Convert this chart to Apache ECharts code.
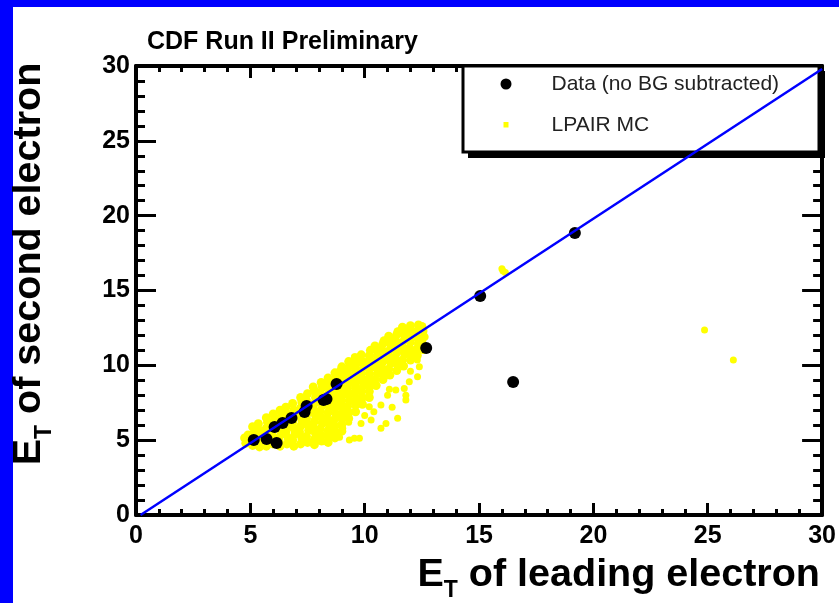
<!DOCTYPE html>
<html>
<head>
<meta charset="utf-8">
<script src="https://cdn.jsdelivr.net/npm/echarts@6.0.0/dist/echarts.min.js"></script>
<style>
html, body { margin: 0; padding: 0; background: #fff; }
#mainChart { width: 839px; height: 603px; }
</style>
</head>
<body>
<div id="mainChart"></div>
<script>
// measured events: [ET leading, ET second]
var dataPoints = [
    [5.15, 5.01], [5.71, 5.08], [6.15, 4.81], [6.06, 5.88], [6.41, 6.15],
    [6.80, 6.48], [7.37, 6.88], [7.46, 7.28], [8.20, 7.68], [8.33, 7.75],
    [8.77, 8.75], [12.69, 11.16], [15.05, 14.63], [19.19, 18.84], [16.49, 8.88]
];

// LPAIR MC, dense band
var mcBand = [
    [4.8, 4.8], [4.75, 5.15], [4.9, 5.35],
    [5.1, 4.65], [5.05, 5.05], [5.15, 5.45], [5.1, 5.9],
    [5.4, 4.55], [5.35, 4.85], [5.45, 5.25], [5.4, 5.65], [5.35, 6.1],
    [5.7, 4.6], [5.75, 5.0], [5.65, 5.4], [5.7, 5.8], [5.75, 6.2], [5.7, 6.5],
    [6.0, 4.75], [6.05, 5.15], [5.95, 5.55], [6.0, 5.95], [6.05, 6.35], [6.0, 6.75],
    [6.3, 4.6], [6.25, 5.0], [6.35, 5.4], [6.3, 5.8], [6.25, 6.2], [6.35, 6.6], [6.3, 7.0],
    [6.6, 4.75], [6.65, 5.15], [6.55, 5.55], [6.6, 5.95], [6.65, 6.35], [6.6, 6.75], [6.55, 7.2],
    [6.9, 4.6], [6.85, 5.0], [6.95, 5.4], [6.9, 5.8], [6.85, 6.2], [6.95, 6.6], [6.9, 7.0], [6.85, 7.45],
    [7.2, 4.75], [7.25, 5.15], [7.15, 5.55], [7.2, 5.95], [7.25, 6.35], [7.15, 6.75], [7.2, 7.15], [7.25, 7.55], [7.2, 7.85],
    [7.5, 4.85], [7.45, 5.25], [7.55, 5.65], [7.5, 6.05], [7.45, 6.45], [7.55, 6.85], [7.5, 7.25], [7.45, 7.65], [7.5, 8.1],
    [7.8, 4.7], [7.8, 5.05], [7.85, 5.45], [7.75, 5.85], [7.8, 6.25], [7.85, 6.65], [7.75, 7.05], [7.8, 7.45], [7.85, 7.85], [7.8, 8.3], [7.75, 8.55],
    [8.1, 4.95], [8.1, 5.35], [8.05, 5.75], [8.15, 6.15], [8.1, 6.55], [8.05, 6.95], [8.15, 7.35], [8.1, 7.75], [8.05, 8.15], [8.15, 8.55], [8.1, 8.85],
    [8.4, 4.85], [8.4, 5.25], [8.4, 5.65], [8.45, 6.05], [8.35, 6.45], [8.4, 6.85], [8.45, 7.25], [8.35, 7.65], [8.4, 8.05], [8.45, 8.45], [8.35, 8.85], [8.4, 9.15],
    [8.7, 5.15], [8.7, 5.55], [8.7, 5.95], [8.65, 6.35], [8.75, 6.75], [8.7, 7.15], [8.65, 7.55], [8.75, 7.95], [8.7, 8.35], [8.65, 8.75], [8.75, 9.15], [8.7, 9.5],
    [9.0, 5.6], [9.0, 6.05], [9.0, 6.45], [9.05, 6.85], [8.95, 7.25], [9.0, 7.65], [9.05, 8.05], [8.95, 8.45], [9.0, 8.85], [9.05, 9.25], [8.95, 9.65], [9.0, 9.9],
    [9.3, 6.45], [9.3, 6.85], [9.25, 7.25], [9.35, 7.65], [9.3, 8.05], [9.25, 8.45], [9.35, 8.85], [9.3, 9.25], [9.25, 9.65], [9.35, 10.0], [9.3, 10.25],
    [9.6, 6.9], [9.6, 7.35], [9.65, 7.75], [9.55, 8.15], [9.6, 8.55], [9.65, 8.95], [9.55, 9.35], [9.6, 9.75], [9.65, 10.15], [9.6, 10.5],
    [9.9, 7.4], [9.9, 7.85], [9.85, 8.25], [9.95, 8.65], [9.9, 9.05], [9.85, 9.45], [9.95, 9.85], [9.9, 10.25], [9.85, 10.7],
    [10.2, 7.85], [10.2, 8.25], [10.25, 8.65], [10.15, 9.05], [10.2, 9.45], [10.25, 9.85], [10.15, 10.25], [10.2, 10.65], [10.25, 11.0],
    [10.5, 8.65], [10.45, 9.05], [10.55, 9.45], [10.5, 9.85], [10.45, 10.25], [10.55, 10.65], [10.5, 11.05], [10.45, 11.3],
    [10.8, 9.05], [10.85, 9.45], [10.75, 9.85], [10.8, 10.25], [10.85, 10.65], [10.75, 11.05], [10.8, 11.45], [10.85, 11.65],
    [11.1, 9.35], [11.05, 9.75], [11.15, 10.15], [11.1, 10.55], [11.05, 10.95], [11.15, 11.35], [11.1, 11.75], [11.05, 11.95],
    [11.4, 9.65], [11.45, 10.05], [11.35, 10.45], [11.4, 10.85], [11.45, 11.25], [11.35, 11.65], [11.4, 12.05], [11.45, 12.25],
    [11.7, 9.95], [11.65, 10.35], [11.75, 10.75], [11.7, 11.15], [11.65, 11.55], [11.75, 11.95], [11.7, 12.35], [11.65, 12.55],
    [12.0, 10.35], [12.05, 10.75], [11.95, 11.15], [12.0, 11.55], [12.05, 11.95], [11.95, 12.35], [12.0, 12.65],
    [12.3, 10.65], [12.25, 11.05], [12.35, 11.45], [12.3, 11.85], [12.25, 12.25], [12.35, 12.7],
    [12.55, 11.05], [12.5, 11.5], [12.6, 11.9], [12.55, 12.3], [12.5, 12.6]
];

// LPAIR MC, sparse tail and outliers
var mcSparse = [
    [9.04, 5.79], [9.84, 6.12], [10.28, 6.35], [10.93, 6.12], [10.71, 5.79], [11.44, 6.46],
    [9.33, 5.01], [9.55, 5.12], [9.77, 5.12], [8.6, 5.34], [8.17, 4.9], [10.71, 7.35],
    [11.0, 8.0], [10.2, 7.23], [11.36, 8.35], [11.8, 7.68], [11.8, 8.0], [9.84, 7.4],
    [12.39, 9.9], [12.31, 9.24], [11.95, 8.9], [11.73, 8.46], [11.08, 8.4], [12.3, 10.35],
    [9.55, 10.57], [10.4, 6.9], [9.3, 6.2], [8.9, 5.2], [10.0, 6.65], [11.2, 7.2], [12.0, 9.6],
    [16.0, 16.45], [16.15, 16.2], [16.05, 16.3], [24.86, 12.36], [26.12, 10.35]
];

var fitLine = [[0.2, 0], [30, 29.8]];
var seriesNames = ['Data (no BG subtracted)', 'LPAIR MC'];
var titleText = 'CDF Run II Preliminary';
var xName = ['E', 'T', ' of leading electron'];
var yName = ['E', 'T', ' of second electron'];
var axisMin = 0, axisMax = 30, axisStep = 5;

var FONT = '"Liberation Sans", Arial, Helvetica, sans-serif';

function frameAxis(pos, isX, showLabel) {
    return {
        type: 'value',
        position: pos,
        min: axisMin,
        max: axisMax,
        interval: axisStep,
        axisLine: { show: true, onZero: false, lineStyle: { color: '#000', width: 4 } },
        axisTick: { show: true, inside: true, length: isX ? 12 : 20, lineStyle: { color: '#000', width: 3 } },
        minorTick: { show: true, splitNumber: 5, length: isX ? 6 : 9, lineStyle: { color: '#000', width: 3 } },
        splitLine: { show: false },
        axisLabel: {
            show: showLabel,
            showMinLabel: true,
            showMaxLabel: true,
            margin: isX ? 9 : 6,
            color: '#000',
            fontFamily: FONT,
            fontWeight: 'bold',
            fontSize: 25
        }
    };
}

// rich text for E_T names
function nameRich() {
    return {
        e: { fontFamily: FONT, fontWeight: 'bold', fontSize: 39.5, lineHeight: 39, verticalAlign: 'top', fill: '#000' },
        s: { fontFamily: FONT, fontWeight: 'bold', fontSize: 23, lineHeight: 23, verticalAlign: 'top', padding: [24, 0, 0, 0], fill: '#000' }
    };
}
function nameText(parts) {
    return '{e|' + parts[0] + '}{s|' + parts[1] + '}{e|' + parts[2] + '}';
}

var myChart = echarts.init(document.getElementById('mainChart'));

var option = {
    animation: false,
    backgroundColor: '#fff',
    grid: { left: 136, right: 15, top: 66, bottom: 88 },
    xAxis: [frameAxis('bottom', true, true), frameAxis('top', true, false)],
    yAxis: [frameAxis('left', false, true), frameAxis('right', false, false)],
    legend: {
        orient: 'vertical',
        left: 500.5,
        top: 73.5,
        padding: 0,
        itemWidth: 46,
        itemHeight: 11,
        itemGap: 20,
        selectedMode: false,
        z: 4,
        data: [
            { name: seriesNames[0], icon: 'path://M0,0M46,11M0,5.5a5.5,5.5 0 1,0 11,0a5.5,5.5 0 1,0 -11,0z' },
            { name: seriesNames[1], icon: 'path://M0,0M46,11M3,2.5h5v5.5h-5z' }
        ],
        textStyle: { fontFamily: FONT, fontSize: 21, color: '#222' }
    },
    graphic: [
        { type: 'rect', z: 0, shape: { x: 0, y: 0, width: 839, height: 7 }, style: { fill: '#0000ff' } },
        { type: 'rect', z: 0, shape: { x: 0, y: 0, width: 13, height: 603 }, style: { fill: '#0000ff' } },
        // legend box shadow, then box
        { type: 'rect', z: 1, shape: { x: 468, y: 71, width: 357, height: 87 }, style: { fill: '#000' } },
        { type: 'rect', z: 1, shape: { x: 463, y: 66, width: 356, height: 86 }, style: { fill: '#fff', stroke: '#000', lineWidth: 3 } },
        {
            type: 'text', x: 147, y: 30, z: 3,
            style: { text: titleText, fontFamily: FONT, fontWeight: 'bold', fontSize: 25, fill: '#000', align: 'left', verticalAlign: 'top' }
        },
        {
            type: 'text', x: 820, y: 555, z: 3,
            style: { text: nameText(xName), rich: nameRich(), align: 'right', verticalAlign: 'top' }
        },
        {
            type: 'text', x: 29, y: 264, z: 3, rotation: Math.PI / 2,
            style: { text: nameText(yName), rich: nameRich(), align: 'center', verticalAlign: 'middle' }
        }
    ],
    series: [
        {
            name: seriesNames[1],
            type: 'scatter',
            symbol: 'circle',
            symbolSize: 9,
            itemStyle: { color: '#ffff00', opacity: 1 },
            data: mcBand
        },
        {
            name: seriesNames[1],
            type: 'scatter',
            symbol: 'circle',
            symbolSize: 7,
            itemStyle: { color: '#ffff00', opacity: 1 },
            data: mcSparse
        },
        {
            name: seriesNames[0],
            type: 'scatter',
            symbol: 'circle',
            symbolSize: 12,
            itemStyle: { color: '#000', opacity: 1 },
            data: dataPoints
        },
        {
            name: 'diagonal',
            type: 'line',
            symbol: 'none',
            lineStyle: { color: '#0000ff', width: 2.5 },
            data: fitLine
        }
    ]
};

myChart.setOption(option);
</script>
</body>
</html>
